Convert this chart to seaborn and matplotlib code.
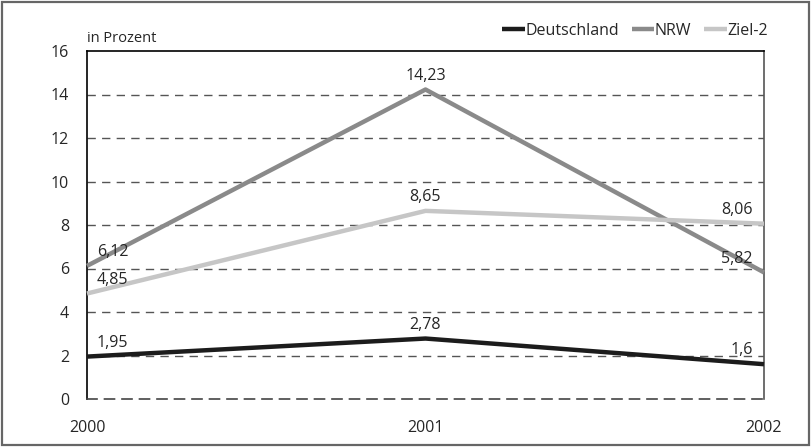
import numpy as np
import pandas as pd
import seaborn as sns
import matplotlib.pyplot as plt
from matplotlib.patches import Rectangle

# data
years = ["2000", "2001", "2002"]
deutschland = [1.95, 2.78, 1.6]
nrw = [6.12, 14.23, 5.82]
ziel2 = [4.85, 8.65, 8.06]
series_names = ["Deutschland", "NRW", "Ziel-2"]
y_ticks = [0, 2, 4, 6, 8, 10, 12, 14, 16]

sns.set_style("white")
plt.rcParams['font.family'] = ['Open Sans', 'DejaVu Sans']
FS = 11.5

df = pd.DataFrame({
    "Jahr": np.tile(np.arange(len(years)), 3),
    "Wert": deutschland + nrw + ziel2,
    "Reihe": np.repeat(series_names, len(years)),
})

colors = {"Deutschland": "#1c1c1c", "NRW": "#8a8a8a", "Ziel-2": "#c6c6c6"}

fig = plt.figure(figsize=(8.11, 4.47), dpi=100)
ax = fig.add_axes([87 / 811, 1 - 399 / 447, (764 - 87) / 811, (399 - 51) / 447])

# dashed grid lines
for t in y_ticks[1:-1]:
    ax.axhline(t, color="#555555", lw=1, ls=(0, (6, 4.5)), zorder=1)

sns.lineplot(data=df, x="Jahr", y="Wert", hue="Reihe", palette=colors,
             linewidth=3.2, ax=ax, legend=False, zorder=3)
for line in ax.lines[-3:]:
    line.set_solid_capstyle("butt")
    line.set_clip_on(False)

# value labels
for vals in [deutschland, nrw, ziel2]:
    for i, v in enumerate(vals):
        txt = f"{v:g}".replace(".", ",")
        if i == 0:
            ax.annotate(txt, (i, v), xytext=(7, 10), textcoords="offset points",
                        ha="left", va="center", fontsize=FS)
        elif i == 1:
            ax.annotate(txt, (i, v), xytext=(0, 10), textcoords="offset points",
                        ha="center", va="center", fontsize=FS)
        else:
            ax.annotate(txt, (i, v), xytext=(-8, 10), textcoords="offset points",
                        ha="right", va="center", fontsize=FS)

ax.set_xlim(0, 2)
ax.set_ylim(0, 16)
ax.set_xticks(range(len(years)))
ax.set_xticklabels(years, fontsize=FS)
ax.set_yticks(y_ticks)
ax.set_yticklabels([str(t) for t in y_ticks], fontsize=FS)
ax.tick_params(axis="x", length=0, pad=15)
ax.tick_params(axis="y", length=0, pad=13)
ax.set_xlabel("")
ax.set_ylabel("")

ax.spines["left"].set_color("black")
ax.spines["top"].set_color("black")
ax.spines["right"].set_color("#555555")
ax.spines["bottom"].set_color("#444444")
ax.spines["bottom"].set_linestyle((0, (6, 4.5)))
for s in ax.spines.values():
    s.set_linewidth(1.2)

ax.text(0, 1.015, "in Prozent", transform=ax.transAxes, fontsize=10.5,
        ha="left", va="bottom")

handles = [plt.Line2D([], [], color=colors[n], lw=3.2, solid_capstyle="butt") for n in series_names]
fig.legend(handles, series_names, loc="center right", bbox_to_anchor=(776 / 811, 1 - 31 / 447),
           ncol=3, frameon=False, fontsize=FS, handlelength=1.4, handletextpad=0.05,
           columnspacing=0.8, borderpad=0)

fig.patches.append(Rectangle((0.003, 0.004), 0.994, 0.991, transform=fig.transFigure,
                             fill=False, edgecolor="#666666", lw=1.6))

fig.savefig("out.png", dpi=100)
